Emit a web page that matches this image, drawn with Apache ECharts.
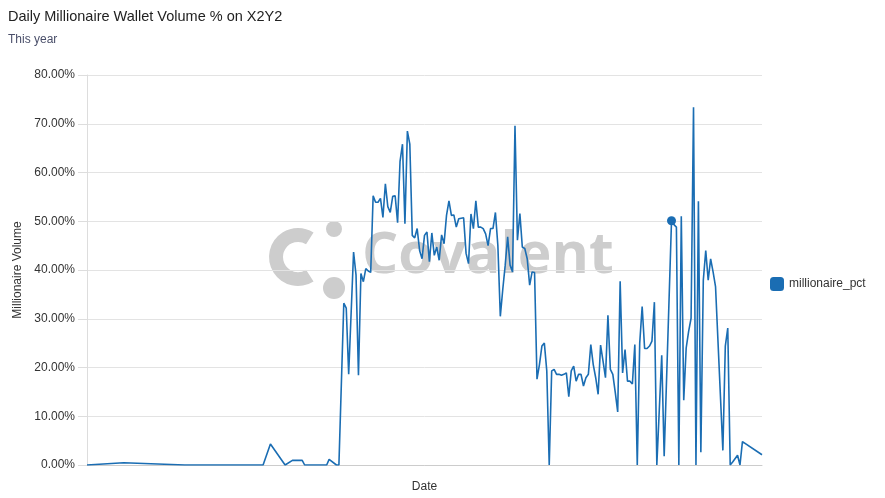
<!DOCTYPE html>
<html>
<head>
<meta charset="utf-8">
<script src="https://cdn.jsdelivr.net/npm/echarts@6/dist/echarts.min.js"></script>
<style>
  html, body { margin: 0; padding: 0; background: #fff; }
  #chart { width: 885px; height: 498px; }
</style>
</head>
<body>
<div id="chart"></div>
<script>
// ---- data ----
const titleText = 'Daily Millionaire Wallet Volume % on X2Y2';
const subtitleText = 'This year';
const seriesName = 'millionaire_pct';
const startDate = '2022-01-01';
// day offsets since startDate
const dayOffsets = [0,15,40,72,75,81,84,88,89,98,99,102,103,
  105,106,107,109,110,111,112,113,114,115,116,117,118,119,120,121,122,123,124,125,126,127,128,129,130,131,132,133,134,135,
  136,137,138,139,140,141,142,143,144,145,146,147,148,149,150,151,152,153,154,155,156,157,158,159,160,161,162,163,164,165,166,167,168,
  169,170,171,172,173,174,175,176,177,178,179,180,181,182,183,184,185,186,187,188,189,
  190,191,192,193,194,195,196,197,198,199,200,201,202,203,204,205,206,
  207,208,209,210,211,212,213,214,215,216,217,218,219,220,221,222,223,224,225,226,227,228,229,230,231,232,233,
  235,236,239,240,241,242,243,244,245,246,247,248,249,250,251,252,253,254,255,256,257,260,261,262,263,264,266,267,268,276];
// millionaire volume share, percent
const pctValues = [0,0.47,0,0,4.3,0,0.95,0.95,0,0,1.15,0,0,
  33.2,32.2,18.6,43.7,39.0,18.4,39.3,37.6,40.3,39.8,39.5,55.2,53.9,53.9,54.7,50.8,57.7,53.0,51.8,55.1,55.2,49.7,62.3,65.8,49.5,68.5,65.8,47.1,46.6,48.5,
  44.0,42.3,47.1,47.8,41.7,47.6,43.0,44.7,42.0,47.2,45.4,51.2,54.2,51.2,51.3,48.8,50.5,50.6,50.7,43.4,41.3,51.5,48.5,54.2,48.8,48.8,48.5,47.4,45.0,48.5,48.5,51.8,45.0,
  30.5,36.0,41.0,46.8,41.0,39.6,69.6,46.1,51.6,44.7,44.4,42.3,36.9,39.6,39.5,17.6,20.6,24.4,25.0,19.3,0,
  19.3,19.6,18.6,18.6,18.4,18.6,18.9,14.0,19.3,20.3,17.2,18.6,18.6,16.2,17.9,18.6,24.7,
  20.6,17.9,14.5,24.6,21.3,17.9,30.7,19.6,18.6,14.9,10.9,37.7,18.9,23.7,17.2,17.2,16.6,24.7,0,25.0,32.5,23.9,23.9,24.4,25.4,33.4,0,
  22.5,1.8,50.1,49.3,48.8,0,51.0,13.3,24.0,27.4,30.1,73.4,0,54.1,2.6,37.9,44.0,37.9,42.3,39.6,36.6,3.0,24.4,28.1,0,0.6,2.0,0,4.8,2.1];
const highlightedDay = 239; // the point drawn with a marker
const yTicks = [0,10,20,30,40,50,60,70,80];

// ---- build ----
const DAY = 86400000;
const t0 = new Date(startDate + 'T00:00:00').getTime();
const lineColor = '#1a6db3';
const seriesData = dayOffsets.map((d, i) => {
  const item = { value: [t0 + d * DAY, pctValues[i]] };
  if (d === highlightedDay) { item.symbol = 'circle'; item.symbolSize = 9; }
  return item;
});

const chart = echarts.init(document.getElementById('chart'), null, { renderer: 'canvas' });
const wm = '#cdcdcd';
chart.setOption({
  animation: false,
  backgroundColor: '#fff',
  textStyle: { fontFamily: '"Liberation Sans", Arial, sans-serif' },
  title: {
    text: titleText,
    subtext: subtitleText,
    left: 3, top: 4,
    itemGap: 10,
    textStyle: { fontSize: 14.5, fontWeight: 'normal', color: '#222' },
    subtextStyle: { fontSize: 12, color: '#4a4f6a' }
  },
  legend: {
    orient: 'vertical',
    left: 765, top: 272,
    icon: 'roundRect',
    itemWidth: 14, itemHeight: 14,
    textStyle: { fontSize: 12, color: '#333' },
    data: [seriesName]
  },
  grid: { left: 87, right: 123, top: 75, bottom: 30, containLabel: false },
  graphic: [
    { type: 'sector', z: -10, shape: { cx: 298, cy: 257, r: 29, r0: 15, startAngle: Math.PI * 0.32, endAngle: Math.PI * 1.68 }, style: { fill: wm } },
    { type: 'circle', z: -10, shape: { cx: 334, cy: 229, r: 8 }, style: { fill: wm } },
    { type: 'circle', z: -10, shape: { cx: 334, cy: 288, r: 11 }, style: { fill: wm } },
    { type: 'text', z: -10, left: 362, top: 228, style: { text: 'Covalent', fill: wm, font: 'bold 57px "Open Sans", "Liberation Sans", sans-serif' } }
  ],
  xAxis: {
    type: 'time',
    min: 'dataMin', max: 'dataMax',
    name: 'Date', nameLocation: 'middle', nameGap: 16,
    nameTextStyle: { fontSize: 12, color: '#333' },
    axisLine: { lineStyle: { color: '#ccc' } },
    axisTick: { show: false },
    axisLabel: { show: false },
    splitLine: { show: false }
  },
  yAxis: {
    type: 'value',
    min: yTicks[0], max: yTicks[yTicks.length - 1], interval: yTicks[1] - yTicks[0],
    name: 'Millionaire Volume', nameLocation: 'middle', nameGap: 60,
    nameTextStyle: { fontSize: 12, color: '#333' },
    axisLine: { show: true, lineStyle: { color: '#ddd' } },
    axisTick: { show: true, length: 9, lineStyle: { color: '#ddd' } },
    axisLabel: { margin: 12, fontSize: 12, color: '#333', formatter: v => v.toFixed(2) + '%' },
    splitLine: { lineStyle: { color: '#e3e3e3' } }
  },
  series: [{
    name: seriesName,
    type: 'line',
    data: seriesData,
    symbol: 'none',
    lineStyle: { width: 1.6, color: lineColor },
    itemStyle: { color: lineColor },
    z: 5
  }]
});
</script>
</body>
</html>
